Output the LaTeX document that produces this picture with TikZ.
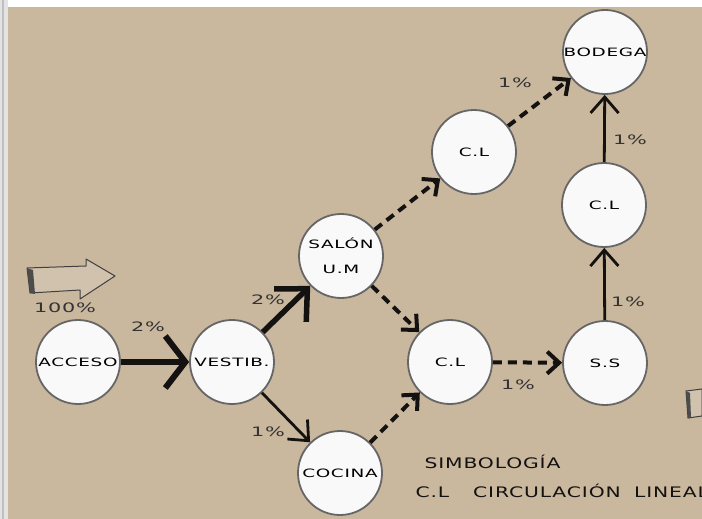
\documentclass[tikz,border=0pt]{standalone}
\usepackage{fontspec}
\newfontfamily\roomfont[FakeStretch=1.6,LetterSpace=6]{DejaVu Sans}
\newfontfamily\legendfont[FakeStretch=1.4,LetterSpace=6]{DejaVu Sans}
\usetikzlibrary{arrows.meta,positioning}
\definecolor{kraft}{RGB}{201,183,158}
\definecolor{ink}{RGB}{20,18,16}

\begin{document}
\begin{tikzpicture}[
    x=1pt, y=-1pt,
    room/.style={circle, draw=black!60, line width=1.8pt, fill=white!95!gray, minimum size=84pt, inner sep=0pt, align=center, font=\roomfont\fontsize{11.5}{25}\selectfont},
    pct/.style={font=\roomfont\fontsize{13}{15}\selectfont, text=black!80},
    flowmain/.style={-{Straight Barb[length=20pt,width=52pt]}, line width=6pt, draw=ink},
    flowbig/.style={-{Straight Barb[length=24pt,width=46pt]}, line width=5.5pt, draw=ink},
    flowthin/.style={-{Straight Barb[length=16pt,width=28pt]}, line width=2.8pt, draw=ink},
    flowdash/.style={-{Straight Barb[length=12pt,width=22pt]}, line width=4pt, draw=ink, dash pattern=on 9pt off 6pt}
]
    % Sheet and paper
    \useasboundingbox (0,0) rectangle (702,519);
    \fill[white] (0,0) rectangle (702,519);
    \fill[gray!22] (0,0) rectangle (8,519);
    \draw[gray!50, line width=2pt] (3,0) -- (3,519);
    \fill[kraft] (8,7) rectangle (702,519);

    % Rooms
    \node[room] (acceso) at (78,362) {ACCESO};
    \node[room] (vestib) at (232,362) {VESTIB.};
    \node[room] (salon) at (341,256) {SALÓN\\U.M};
    \node[room] (cocina) at (340,473) {COCINA};
    \node[room] (cltop) at (474,152) {C.L};
    \node[room] (clmid) at (450,362) {C.L};
    \node[room] (ss) at (605,363) {S.S};
    \node[room] (clright) at (604,205) {C.L};
    \node[room] (bodega) at (605,52) {BODEGA};

    % Connectors
    \draw[flowmain] (acceso) -- (vestib);
    \draw[flowbig] (vestib) -- (salon);
    \draw[flowthin] (vestib) -- (cocina);
    \draw[flowdash] (salon) -- (cltop);
    \draw[flowdash] (salon) -- (clmid);
    \draw[flowdash] (cocina) -- (clmid);
    \draw[flowdash] (cltop) -- (bodega);
    \draw[flowdash] (clmid) -- (ss);
    \draw[flowthin] (ss) -- (clright);
    \draw[flowthin] (clright) -- (bodega);

    % Percentages
    \node[pct] (p100) at (65,308) {100\%};
    \node[pct] (pa) at (148,327) {2\%};
    \node[pct] (pb) at (268,300) {2\%};
    \node[pct] (pc) at (268,432) {1\%};
    \node[pct] (pd) at (515,83) {1\%};
    \node[pct] (pe) at (518,385) {1\%};
    \node[pct] (pf) at (628,302) {1\%};
    \node[pct] (pg) at (630,140) {1\%};

    % Entrance arrow
    \draw[black!75, line width=1pt, line join=round, fill=kraft!85!white]
        (27,268) -- (86,266) -- (86,259) -- (115,276) -- (80,299) -- (80,290) -- (30,293) -- cycle;
    \fill[black!70] (27,268) -- (33,270) -- (35,294) -- (30,293) -- cycle;
    \draw[black!75, line width=1pt, fill=kraft!85!white] (686,391) -- (702,389) -- (702,416) -- (688,418) -- cycle;
    \fill[black!70] (686,391) -- (690,393) -- (691,418) -- (688,418) -- cycle;

    % Legend
    \node[anchor=west, font=\legendfont\fontsize{14.5}{17}\selectfont, text=ink] (simb) at (421,462) {SIMBOLOGÍA};
    \node[anchor=west, font=\legendfont\fontsize{14.5}{17}\selectfont, text=ink] (lineal) at (412,491) {C.L\hspace{24pt}CIRCULACIÓN\hspace{6pt} LINEAL};
\end{tikzpicture}
\end{document}
